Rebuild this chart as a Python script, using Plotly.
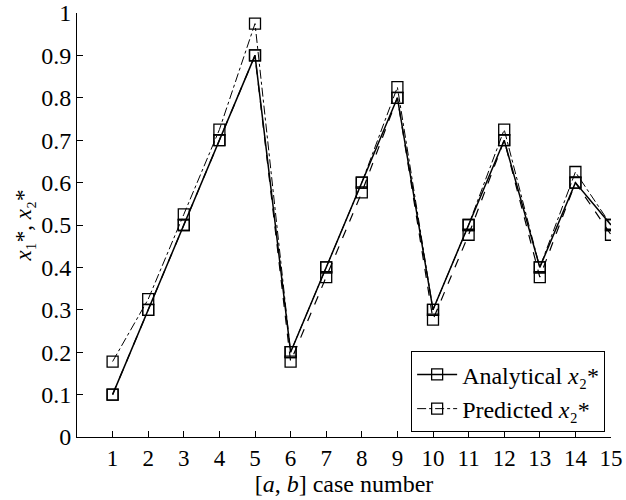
import plotly.graph_objects as go

cases = list(range(1, 16))
analytical_x2 = [0.1, 0.3, 0.5, 0.7, 0.9, 0.2, 0.4, 0.6, 0.8, 0.3, 0.5, 0.7, 0.4, 0.6, 0.5]
predicted_x2 = [0.178, 0.325, 0.525, 0.725, 0.975, 0.2, 0.4, 0.6, 0.825, 0.3, 0.5, 0.725, 0.4, 0.625, 0.5]
predicted_x1 = [0.1, 0.3, 0.5, 0.7, 0.9, 0.178, 0.377, 0.577, 0.8, 0.277, 0.477, 0.7, 0.377, 0.6, 0.477]

yticks = [0, 0.1, 0.2, 0.3, 0.4, 0.5, 0.6, 0.7, 0.8, 0.9, 1]
ytick_text = ["0", "0.1", "0.2", "0.3", "0.4", "0.5", "0.6", "0.7", "0.8", "0.9", "1"]

FONT = "Liberation Serif"
marker = dict(symbol="square-open", size=11, color="black", line=dict(width=1.3))

fig = go.Figure()
fig.add_trace(go.Scatter(x=cases, y=predicted_x1, mode="lines+markers",
                         line=dict(color="black", width=1.2, dash="dash"),
                         marker=marker, showlegend=False, name="Predicted x1*"))
fig.add_trace(go.Scatter(x=cases, y=analytical_x2, mode="lines+markers",
                         line=dict(color="black", width=1.5),
                         marker=marker, name="Analytical <i>x</i>₂*"))
fig.add_trace(go.Scatter(x=cases, y=predicted_x2, mode="lines+markers",
                         line=dict(color="black", width=1.0, dash="dashdot"),
                         marker=marker, name="Predicted <i>x</i>₂*"))

fig.update_layout(
    width=626, height=500,
    margin=dict(l=77, r=15, t=13, b=63),
    paper_bgcolor="white", plot_bgcolor="white",
    font=dict(family=FONT, size=24, color="black"),
    showlegend=True,
    legend=dict(x=0.989, y=0.011, xanchor="right", yanchor="bottom",
                bgcolor="white", bordercolor="black", borderwidth=1,
                font=dict(family=FONT, size=24), tracegroupgap=0,
                itemwidth=40),
    xaxis=dict(range=[0, 15], tickmode="array", tickvals=cases,
               ticktext=[str(c) for c in cases],
               ticks="inside", ticklen=6, tickcolor="black",
               showline=True, linecolor="black", linewidth=1,
               showgrid=False, zeroline=False, automargin=False,
               ticklabeloverflow="allow",
               tickfont=dict(family=FONT, size=23),
               title=dict(text="[<i>a</i>, <i>b</i>] case number", standoff=0,
                          font=dict(family=FONT, size=24))),
    yaxis=dict(range=[0, 1], tickmode="array", tickvals=yticks, ticktext=ytick_text,
               ticks="inside", ticklen=6, tickcolor="black",
               showline=True, linecolor="black", linewidth=1,
               showgrid=False, zeroline=False, automargin=False,
               ticklabeloverflow="allow",
               tickfont=dict(family=FONT, size=24),
               title=dict(text="<i>x</i>₁*, <i>x</i>₂*",
                          standoff=3, font=dict(family=FONT, size=23))),
)

fig.write_html("out.html", config={"displayModeBar": False},
               post_script="document.body.style.margin='0';document.body.style.overflow='hidden';")
